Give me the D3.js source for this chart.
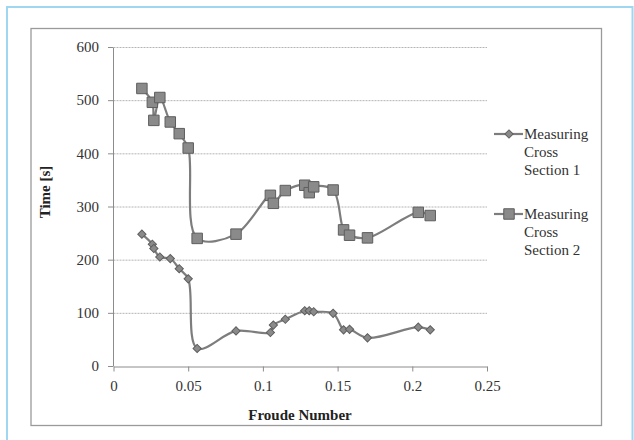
<!DOCTYPE html>
<html>
<head>
<meta charset="utf-8">
<script src="https://cdn.jsdelivr.net/npm/d3@7"></script>
<style>
  body { margin: 0; background: #fff; }
  svg text { font-family: "Liberation Serif", "Times New Roman", serif; }
</style>
</head>
<body>
<div class="chartContainer"></div>
<script>
// Froude numbers shared by both measuring cross sections
var froude = [0.019, 0.026, 0.027, 0.031, 0.038, 0.044, 0.050, 0.056, 0.082, 0.105, 0.107,
              0.115, 0.128, 0.131, 0.134, 0.147, 0.154, 0.158, 0.170, 0.204, 0.212];
var section1 = [248, 229, 221, 205, 202, 183, 164, 33, 66, 63, 77,
                88, 104, 104, 102, 99, 68, 69, 53, 73, 68];
var section2 = [522, 496, 462, 505, 459, 437, 410, 240, 248, 321, 306,
                330, 340, 326, 337, 331, 256, 246, 241, 289, 283];
var seriesNames = ["Measuring Cross Section 1", "Measuring Cross Section 2"];
var xTicks = [0, 0.05, 0.1, 0.15, 0.2, 0.25];
var yTicks = [0, 100, 200, 300, 400, 500, 600];

var svgWidth = 634;
var svgHeight = 440;
var serif = '"Liberation Serif", "Times New Roman", serif';
var lineColor = '#7d7d7d';
var markFill = '#8a8a8a';
var markStroke = '#5e5e5e';

var svg = d3.select('div.chartContainer').append('svg').attr('width', svgWidth).attr('height', svgHeight);

// outer light blue frame and chart border
svg.append('rect').attr('x', 7).attr('y', 7).attr('width', 625.5).attr('height', 440)
   .attr('fill', 'none').attr('stroke', '#9fd6f2').attr('stroke-width', 2);
svg.append('rect').attr('x', 31).attr('y', 28.5).attr('width', 570.5).attr('height', 397)
   .attr('fill', 'none').attr('stroke', '#9a9a9a').attr('stroke-width', 1.3);

var x = d3.scaleLinear().domain([0, 0.25]).range([113.5, 487]);
var y = d3.scaleLinear().domain([0, 600]).range([366, 47]);

// gridlines
svg.append('g').selectAll('line')
   .data(yTicks.slice(1))
   .enter()
   .append('line')
   .attr('x1', x(0)).attr('x2', x(0.25))
   .attr('y1', function(d) { return y(d) + 0.5; })
   .attr('y2', function(d) { return y(d) + 0.5; })
   .attr('stroke', '#b4b4b4').attr('stroke-dasharray', '2,1');

var yAxis = svg.append('g').attr('transform', 'translate(' + (x(0) - 0.5) + ',0)')
   .call(d3.axisLeft(y).tickValues(yTicks).tickSize(5).tickSizeOuter(0).tickPadding(9));
var xAxis = svg.append('g').attr('transform', 'translate(0,' + (y(0) + 0.5) + ')')
   .call(d3.axisBottom(x).tickValues(xTicks).tickSize(5).tickSizeOuter(0).tickPadding(9)
   .tickFormat(function(d) { return d === 0 ? '0' : String(d); }));

[yAxis, xAxis].forEach(function(ax) {
   ax.attr('font-family', serif).attr('font-size', 15);
   ax.select('.domain').attr('stroke', '#8c8c8c');
   ax.selectAll('.tick line').attr('stroke', '#8c8c8c');
   ax.selectAll('.tick text').attr('fill', '#333');
});

// axis titles
svg.append('text').attr('x', 300).attr('y', 420).attr('text-anchor', 'middle')
   .attr('font-family', serif).attr('font-size', 15).attr('font-weight', 'bold').attr('fill', '#222')
   .text('Froude Number');
svg.append('text').attr('transform', 'translate(50,192) rotate(-90)').attr('text-anchor', 'middle')
   .attr('font-family', serif).attr('font-size', 15).attr('font-weight', 'bold').attr('fill', '#222')
   .text('Time [s]');

var line = d3.line()
   .x(function(d) { return x(d[0]); })
   .y(function(d) { return y(d[1]); })
   .curve(d3.curveCatmullRom.alpha(0.5));

// diamond = small square turned 45 degrees
var diamond = d3.symbol().type(d3.symbolSquare).size(34);
var square = d3.symbol().type(d3.symbolSquare).size(110);
var shapes = [{ path: diamond, rot: 45 }, { path: square, rot: 0 }];

function drawSeries(values, shape) {
   var pts = froude.map(function(f, i) { return [f, values[i]]; });
   svg.append('path').datum(pts).attr('d', line)
      .attr('fill', 'none').attr('stroke', lineColor).attr('stroke-width', 2.2);
   svg.append('g').selectAll('path')
      .data(pts)
      .enter()
      .append('path')
      .attr('d', shape.path)
      .attr('transform', function(d) {
         return 'translate(' + x(d[0]) + ',' + y(d[1]) + ') rotate(' + shape.rot + ')';
      })
      .attr('fill', markFill).attr('stroke', markStroke).attr('stroke-width', 1);
}
drawSeries(section1, shapes[0]);
drawSeries(section2, shapes[1]);

// legend
var legend = svg.append('g');
shapes.forEach(function(shape, i) {
   var ly = 134 + i * 80;
   legend.append('line').attr('x1', 494).attr('x2', 523).attr('y1', ly).attr('y2', ly)
      .attr('stroke', lineColor).attr('stroke-width', 2.2);
   legend.append('path').attr('d', shape.path)
      .attr('transform', 'translate(509,' + ly + ') rotate(' + shape.rot + ')')
      .attr('fill', markFill).attr('stroke', markStroke);
   var words = ['Measuring', 'Cross', seriesNames[i].replace('Measuring Cross ', '')];
   legend.append('text').attr('x', 524).attr('y', ly + 5)
      .attr('font-family', serif).attr('font-size', 15).attr('fill', '#333')
      .selectAll('tspan')
      .data(words)
      .enter()
      .append('tspan')
      .attr('x', 524)
      .attr('dy', function(d, j) { return j === 0 ? 0 : 18; })
      .text(function(d) { return d; });
});
</script>
</body>
</html>
